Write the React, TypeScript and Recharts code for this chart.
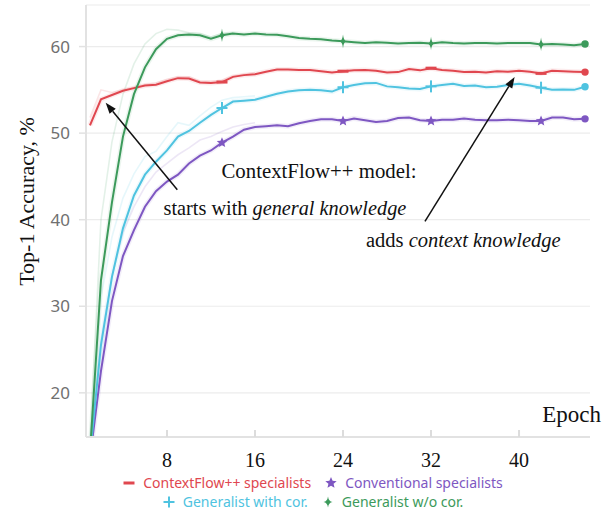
import React from 'react';
import { LineChart, Line, XAxis, YAxis, CartesianGrid, ReferenceLine } from 'recharts';

// epochs on the x axis
const epochs = [
  1, 2, 3, 4, 5, 6, 7, 8, 9, 10, 11, 12, 13, 14, 15, 16, 17, 18, 19, 20, 21, 22, 23,
  24, 25, 26, 27, 28, 29, 30, 31, 32, 33, 34, 35, 36, 37, 38, 39, 40, 41, 42, 43, 44, 45, 46,
];

const contextFlowSpecialists = [
  50.9, 53.9, 54.4, 54.9, 55.2, 55.5, 55.6, 56.0, 56.35, 56.3,
  55.85, 55.8, 55.9, 56.5, 56.7, 56.8, 57.1, 57.35, 57.35, 57.3,
  57.3, 57.15, 57.0, 57.15, 57.25, 57.3, 57.2, 57.0, 57.05, 57.4,
  57.25, 57.5, 57.3, 57.2, 57.05, 57.1, 57.0, 57.15, 57.1, 57.2,
  57.1, 56.9, 57.2, 57.15, 57.1, 57.05,
];
const conventionalSpecialists = [
  12.5, 22.5, 30.6, 35.8, 38.8, 41.5, 43.3, 44.4, 45.2, 46.5,
  47.4, 48.0, 48.9, 49.6, 50.4, 50.7, 50.8, 50.9, 50.8, 51.15,
  51.4, 51.6, 51.6, 51.4, 51.7, 51.5, 51.3, 51.4, 51.75, 51.8,
  51.5, 51.4, 51.55, 51.55, 51.7, 51.55, 51.5, 51.5, 51.55, 51.5,
  51.4, 51.4, 51.8, 51.8, 51.6, 51.65,
];
const generalistWithCor = [
  12.8, 25.5, 33.4, 39.0, 42.8, 45.2, 46.7, 48.0, 49.6, 50.25,
  51.2, 52.1, 52.9, 53.65, 53.75, 53.85, 54.2, 54.55, 54.8, 54.95,
  55.0, 54.95, 54.8, 55.3, 55.55, 55.75, 55.8, 55.4, 55.3, 55.15,
  55.1, 55.4, 55.55, 55.7, 55.45, 55.5, 55.3, 55.35, 55.55, 55.7,
  55.5, 55.25, 55.0, 55.05, 55.0, 55.35,
];
const generalistWithoutCor = [
  13.0, 33.0, 42.0, 49.6, 54.5, 57.6, 59.7, 60.9, 61.3, 61.4,
  61.3, 60.9, 61.3, 61.5, 61.4, 61.5, 61.4, 61.35, 61.2, 61.0,
  60.9, 60.85, 60.7, 60.6, 60.5, 60.4, 60.5, 60.45, 60.35, 60.4,
  60.45, 60.35, 60.5, 60.4, 60.35, 60.4, 60.4, 60.35, 60.4, 60.4,
  60.4, 60.25, 60.3, 60.25, 60.15, 60.3,
];

// faint upper runs, only visible during the first epochs
const contextFlowUpper = [51.8, 55.0, 54.7, 55.0, 55.3, 55.6, 55.8, 56.2, 56.5, 56.5, 56.0, 56.0, 56.1, 56.6, 56.8, 57.0];
const conventionalUpper = [13.0, 26.0, 33.5, 38.5, 41.5, 43.8, 45.5, 46.5, 47.5, 48.3, 49.2, 49.6, 50.2, 50.7, 51.0, 51.2];
const withCorUpper = [13.5, 31.0, 38.0, 42.5, 45.3, 47.3, 47.9, 49.6, 51.2, 50.9, 52.0, 53.0, 53.8, 54.1, 54.2, 54.3];
const withoutCorUpper = [14.0, 40.0, 49.0, 54.5, 58.0, 60.3, 61.5, 62.0, 61.9, 61.6, 61.5, 61.1, 61.5, 61.6];

const markerEpochs = [13, 24, 32, 42];
const lastEpoch = 46;

const xTicks = [8, 16, 24, 32, 40];
const yTicks = [20, 30, 40, 50, 60];

const SERIF = '"Liberation Serif", "Times New Roman", serif';
const SANS = '"Noto Sans", "Open Sans", sans-serif';

type MarkerKind = 'dash' | 'star' | 'plus' | 'diamond';

interface Series {
  key: string;
  name: string;
  color: string;
  marker: MarkerKind;
  values: number[];
  upper: number[];
}

const series: Series[] = [
  { key: 'ctx', name: 'ContextFlow++ specialists', color: '#e0474f', marker: 'dash', values: contextFlowSpecialists, upper: contextFlowUpper },
  { key: 'conv', name: 'Conventional specialists', color: '#7e57c2', marker: 'star', values: conventionalSpecialists, upper: conventionalUpper },
  { key: 'withCor', name: 'Generalist with cor.', color: '#4fc3e0', marker: 'plus', values: generalistWithCor, upper: withCorUpper },
  { key: 'woCor', name: 'Generalist w/o cor.', color: '#3c9a5b', marker: 'diamond', values: generalistWithoutCor, upper: withoutCorUpper },
];

// draw order of the solid lines (last one on top)
const drawOrder = ['conv', 'withCor', 'ctx', 'woCor'];

const data = epochs.map((epoch, i) => {
  const row: Record<string, number | null> = { epoch };
  series.forEach((s) => {
    row[s.key] = s.values[i];
    row[s.key + 'Hi'] = s.upper[i] ?? null;
  });
  return row;
});

function starPoints(cx: number, cy: number, r: number) {
  const pts: string[] = [];
  for (let k = 0; k < 10; k++) {
    const rad = k % 2 === 0 ? r : r * 0.45;
    const a = -Math.PI / 2 + (k * Math.PI) / 5;
    pts.push(`${cx + rad * Math.cos(a)},${cy + rad * Math.sin(a)}`);
  }
  return pts.join(' ');
}

function MarkerShape({ kind, cx, cy, color, legend }: { kind: MarkerKind; cx: number; cy: number; color: string; legend?: boolean }) {
  switch (kind) {
    case 'star':
      return <polygon points={starPoints(cx, cy, legend ? 6 : 5.5)} fill={color} />;
    case 'plus':
      return (
        <g stroke={color} strokeWidth={2}>
          <line x1={cx} y1={cy - (legend ? 5.5 : 6)} x2={cx} y2={cy + (legend ? 5.5 : 6)} />
          <line x1={cx - 5.5} y1={cy} x2={cx + 5.5} y2={cy} />
        </g>
      );
    case 'diamond': {
      const w = legend ? 4.5 : 3.4;
      const h = legend ? 5.5 : 6.8;
      return (
        <path
          d={`M${cx},${cy - h} Q${cx + 0.6},${cy - 0.6} ${cx + w},${cy} Q${cx + 0.6},${cy + 0.6} ${cx},${cy + h} Q${cx - 0.6},${cy + 0.6} ${cx - w},${cy} Q${cx - 0.6},${cy - 0.6} ${cx},${cy - h}Z`}
          fill={color}
        />
      );
    }
    default:
      return <line x1={cx - 5.5} y1={cy} x2={cx + 5.5} y2={cy} stroke={color} strokeWidth={3} />;
  }
}

const makeDot = (s: Series) => (props: any) => {
  const { cx, cy, payload, index } = props;
  const k = `${s.key}-dot-${index}`;
  if (cx == null || cy == null) return <g key={k} />;
  if (payload.epoch === lastEpoch) return <circle key={k} cx={cx} cy={cy} r={3.7} fill={s.color} />;
  if (markerEpochs.includes(payload.epoch)) {
    return (
      <g key={k}>
        <MarkerShape kind={s.marker} cx={cx} cy={cy} color={s.color} />
      </g>
    );
  }
  return <g key={k} />;
};

function Arrow(props: any) {
  const { x1, y1, x2, y2 } = props;
  const ang = Math.atan2(y2 - y1, x2 - x1);
  const len = 11;
  const half = 4;
  const bx = x2 - len * Math.cos(ang);
  const by = y2 - len * Math.sin(ang);
  const p1 = `${bx + half * Math.sin(ang)},${by - half * Math.cos(ang)}`;
  const p2 = `${bx - half * Math.sin(ang)},${by + half * Math.cos(ang)}`;
  return (
    <g>
      <line x1={x1} y1={y1} x2={bx} y2={by} stroke="#111" strokeWidth={1.5} />
      <polygon points={`${x2},${y2} ${p1} ${p2}`} fill="#111" />
    </g>
  );
}

function LegendRows() {
  const rows = [series.slice(0, 2), series.slice(2, 4)];
  return (
    <div style={{ position: 'absolute', left: 14, top: 473, width: 597, fontFamily: SANS, fontSize: 14 }}>
      {rows.map((row, r) => (
        <div key={r} style={{ display: 'flex', justifyContent: 'center', alignItems: 'center', height: 19 }}>
          {row.map((s, i) => (
            <div key={s.key} style={{ display: 'flex', alignItems: 'center', marginLeft: i === 0 ? 0 : 13 }}>
              <svg width={14} height={14} style={{ marginRight: 7 }}>
                <MarkerShape kind={s.marker} cx={7} cy={7} color={s.color} legend />
              </svg>
              <span style={{ color: s.color, whiteSpace: 'nowrap' }}>{s.name}</span>
            </div>
          ))}
        </div>
      ))}
    </div>
  );
}

export default function App() {
  return (
    <div style={{ position: 'absolute', left: 0, top: 0, width: 611, height: 511, background: '#fff' }}>
      <LineChart width={611} height={511} data={data} margin={{ top: 5, right: 21, bottom: 34, left: 0 }}>
        <CartesianGrid vertical={false} stroke="#ececec" strokeWidth={1.2} />
        <XAxis
          dataKey="epoch" type="number" domain={[0.64, 46.45]} allowDataOverflow
          ticks={xTicks} interval={0} height={40}
          axisLine={{ stroke: '#e2e2e2', strokeWidth: 2 }}
          tickLine={{ stroke: '#dcdcdc', strokeWidth: 2 }}
          tickSize={-7} tickMargin={23}
          tick={{ fontSize: 20, fill: '#111', fontFamily: SERIF }}
        />
        <YAxis
          type="number" domain={[14.9, 64.8]} allowDataOverflow
          ticks={yTicks} interval={0} width={86}
          axisLine={{ stroke: '#e2e2e2', strokeWidth: 2 }}
          tickLine={{ stroke: '#e2e2e2', strokeWidth: 1.5 }}
          tickSize={7} tickMargin={9}
          tick={{ fontSize: 17, fill: '#707070', fontFamily: SANS }}
        />
        {series.map((s) => (
          <Line
            key={s.key + 'Hi'} dataKey={s.key + 'Hi'} type="linear"
            stroke={s.color} strokeOpacity={0.14} strokeWidth={1.6}
            dot={false} activeDot={false} legendType="none" isAnimationActive={false}
          />
        ))}
        {series.map((s) => (
          <Line
            key={s.key + 'Halo'} dataKey={s.key} type="linear"
            stroke={s.color} strokeOpacity={0.1} strokeWidth={5}
            dot={false} activeDot={false} legendType="none" isAnimationActive={false}
          />
        ))}
        {drawOrder.map((k) => {
          const s = series.find((x) => x.key === k)!;
          return (
            <Line
              key={s.key} dataKey={s.key} name={s.name} type="linear"
              stroke={s.color} strokeWidth={2}
              dot={makeDot(s)} activeDot={false} isAnimationActive={false}
            />
          );
        })}
        <ReferenceLine segment={[{ x: 8.94, y: 43.45 }, { x: 2.43, y: 53.5 }]} shape={Arrow} />
        <ReferenceLine segment={[{ x: 31.45, y: 39.8 }, { x: 39.6, y: 56.47 }]} shape={Arrow} />
      </LineChart>

      <svg width={611} height={511} style={{ position: 'absolute', left: 0, top: 0, pointerEvents: 'none' }}>
        <text transform="translate(34,201.5) rotate(-90)" textAnchor="middle" fontFamily={SERIF} fontSize={22} fill="#111">
          Top-1 Accuracy, %
        </text>
        <text x={601} y={421.5} textAnchor="end" fontFamily={SERIF} fontSize={23} fill="#111">Epoch</text>
        <text x={221.5} y={178} fontFamily={SERIF} fontSize={20.8} fill="#111">ContextFlow++ model:</text>
        <text x={163.5} y={215} fontFamily={SERIF} fontSize={20.3} fill="#111">
          starts with <tspan fontStyle="italic">general knowledge</tspan>
        </text>
        <text x={366} y={247} fontFamily={SERIF} fontSize={20.5} fill="#111">
          adds <tspan fontStyle="italic">context knowledge</tspan>
        </text>
      </svg>

      <LegendRows />
    </div>
  );
}
